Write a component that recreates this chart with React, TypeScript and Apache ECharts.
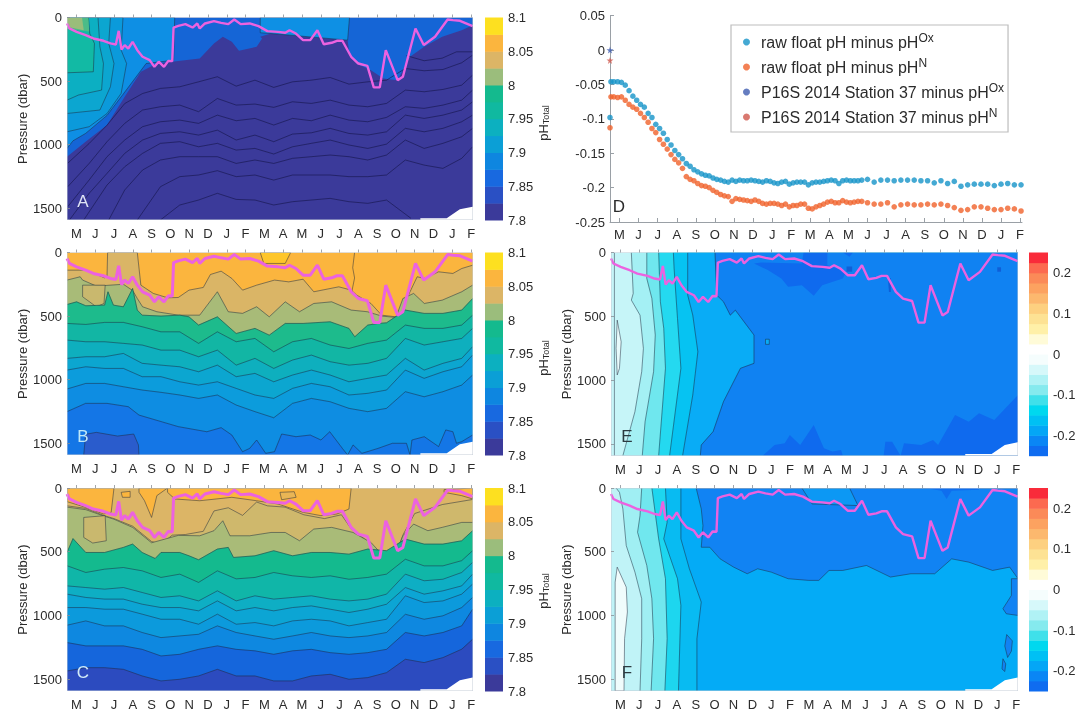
import React, { useEffect, useRef } from "react";
import * as echarts from "echarts";

const MONTH_LETTERS = ["M","J","J","A","S","O","N","D","J","F","M","A","M","J","J","A","S","O","N","D","J","F"];
const MONTH_TICKS = [0.5,1.5,2.5,3.5,4.5,5.5,6.5,7.5,8.5,9.5,10.5,11.5,12.5,13.5,14.5,15.5,16.5,17.5,18.5,19.5,20.5,21.5];
const MONTH_X = [0,1,2,3,4,5,6,7,8,9,10,11,12,13,14,15,16,17,18,19,20,21,21.58];
const TAIL_X = [6,7,8,9,10,11,12,13,14,15,16,17,18,19,20,21,21.58];
const PRESSURE_TICKS = [0,500,1000,1500];
const XMAX = 21.6;
const PMAX = 1593;

const PH_LEVELS = [7.8,7.825,7.85,7.875,7.9,7.925,7.95,7.975,8,8.025,8.05,8.075,8.1];
const PH_COLORS = ["#3b3a9a","#2a50c4","#1869e0","#0e86e0","#0b9fd6","#0cb0c0","#10b9a0","#14ba8e","#9bbd7c","#dcb566","#fbb53e","#fde020"];
const PH_TICKS = [7.8,7.85,7.9,7.95,8,8.05,8.1];
const DIFF_LEVELS = [-0.25,-0.225,-0.2,-0.175,-0.15,-0.125,-0.1,-0.075,-0.05,-0.025,0,0.025,0.05,0.075,0.1,0.125,0.15,0.175,0.2,0.225,0.25];
const DIFF_COLORS = ["#0f6cf0","#0a86f5","#04a6f6","#00c0f4","#00d8ef","#3fe0ea","#85eaee","#b0f2f5","#d6f8fa","#f5fdfd","#ffffff","#fffbd8","#fff0a8","#fde294","#fdd080","#fcb86e","#fca260","#fb8a58","#fc6a50","#f92b3a"];
const DIFF_TICKS = [-0.2,-0.1,0,0.1,0.2];

const MLD = [[0,47],[0.13,86],[0.51,113],[0.99,139],[1.4,165],[1.94,183],[2.31,204],[2.6,212],[2.75,105],[2.9,252],[3.07,217],[3.26,244],[3.49,191],[3.74,257],[4.02,309],[4.4,335],[4.65,388],[4.88,348],[5.16,388],[5.39,341],[5.6,343],[5.67,79],[5.92,66],[6.3,52],[6.68,79],[6.93,47],[7.06,86],[7.34,47],[7.82,29],[8.2,42],[8.58,52],[8.9,16],[9.24,52],[9.72,47],[10.19,68],[10.66,107],[11.23,113],[11.61,120],[11.84,100],[12.18,126],[12.56,178],[12.94,178],[13.32,100],[13.66,210],[14.08,199],[14.36,183],[14.65,183],[15.12,309],[15.5,362],[15.98,380],[16.32,550],[16.64,550],[16.96,257],[17.59,493],[17.87,466],[18.54,86],[18.98,217],[19.58,152],[20.25,16],[20.53,21],[20.91,26],[21.58,68]];
const NO_DATA = [[18.8,1580],[20.2,1580],[20.9,1509],[21.58,1488],[21.6,1488],[21.6,1593],[18.8,1593]];

// Panel A
const A_BLUE = [[0,0],[21.6,0],[21.58,60],[21,100],[19.96,152],[19,231],[18.25,309],[17.59,493],[16.83,479],[16.17,414],[15.41,362],[15.03,296],[14.93,178],[10.85,126],[10.28,152],[10.38,165],[10.09,231],[9.15,262],[8.77,191],[8.29,152],[7.82,204],[7.06,322],[5.92,343],[4.78,362],[3.93,427],[3.07,624],[2.13,846],[0.99,977],[0,1095]];
const A_LIGHT = [[0,0],[5.73,0],[5.67,336],[4.21,362],[3.07,587],[2.13,770],[0.99,912],[0.32,970],[0,1030]];
const A_LIGHT2 = [[10.28,0],[15.03,0],[14.93,178],[10.85,126],[10.28,120]];
const A_U4 = [[2.98,0],[2.88,257],[3.17,362],[2.88,597],[2.13,755],[1.18,859],[0,899],[0,0]];
const A_U3 = [[2.31,0],[2.22,204],[2.5,362],[2.31,545],[1.75,728],[0,755],[0,0]];
const A_U2 = [[1.65,0],[1.75,231],[1.94,362],[1.84,571],[0.61,610],[0,650],[0,0]];
const A_U1 = [[1.14,0],[1.21,126],[1.46,204],[1.4,427],[0,435],[0,0]];
const A_U0B = [[1.14,0],[1.18,110],[0,90],[0,0]];
const A_U0 = [[0.8,0],[0.89,100],[0,73],[0,0]];
const A_TOP = [[18.06,300],[19,340],[19.96,320],[20.72,270],[21.58,270]];
const A_P2 = [545,506,466,540,493,550,506,493,472,524,506,493,401,419,409,356,296];
const A_P3 = [689,741,637,689,681,707,663,676,650,689,702,676,571,584,566,532,453];
const A_P4 = [807,833,768,812,794,846,794,812,768,807,820,786,702,715,689,650,571];
const A_P5 = [899,925,886,964,925,977,917,907,872,912,925,899,768,794,768,728,663];
const A_P6 = [977,1017,990,1043,1030,1074,1017,990,964,1003,1030,996,872,899,872,820,768];
const A_P7 = [1095,1095,1095,1148,1121,1148,1108,1095,1082,1095,1121,1082,964,1030,990,938,872];
const A_P8 = [1252,1239,1205,1252,1239,1279,1239,1239,1239,1252,1252,1239,1121,1161,1187,1108,1017];
const A_P9 = [1475,1436,1383,1431,1436,1475,1449,1436,1423,1449,1462,1436];
const A_T2 = [[0.04,1146],[1.18,991],[2.13,847],[3.07,677],[4.02,598],[4.97,558]];
const A_T3 = [[0.04,1331],[1.18,1148],[2.13,977],[3.07,833],[4.02,728],[4.97,702]];
const A_T4 = [[0.04,1488],[1.18,1278],[2.13,1095],[3.07,964],[4.02,859],[4.97,820]];
const A_T5 = [[0.13,1593],[1.18,1383],[2.13,1226],[3.07,1069],[4.02,964],[4.97,912]];
const A_T6 = [[0.89,1593],[2.13,1318],[3.07,1174],[4.02,1069],[4.97,990]];
const A_T7 = [[2.22,1593],[3.07,1357],[4.02,1200],[4.97,1121]];
const A_T8 = [[3.74,1593],[4.97,1331]];
const A_T9 = [[4.97,1593]];
const A_E9 = [[18.3,1580]];

// Panel B
const B_T1 = [[0,139],[1,139],[2,199],[2.13,191],[2.16,0],[3.74,0],[3.93,257],[4.59,322],[5.35,356],[5.92,354],[6.49,296],[7.25,275],[7.63,173],[8.2,147],[8.77,204],[9.34,296],[10.09,257],[11.04,217],[11.8,231],[12.56,210],[13.13,309],[14.46,270],[15.12,296],[15.41,335],[16.17,401],[16.74,493],[17.5,506],[17.87,427],[18.63,191],[19.01,204],[19.77,152],[20.53,165],[21,126],[21.58,100]];
const B_T2 = [[0,217],[0.7,191],[0.83,217],[1.5,260],[2,260],[3,250],[3.5,300],[3.74,362],[4.02,427],[4.78,466],[5.92,493],[7.06,493],[8,309],[8.58,466],[9.34,479],[10.09,427],[10.76,506],[11.61,388],[12.37,466],[13.13,401],[14.08,388],[15.12,453],[15.98,466],[16.74,500],[17.5,511],[17.87,362],[18.44,322],[19.01,401],[19.96,375],[21,309],[21.58,257]];
const B_POCKET = [[0.83,257],[0.83,348],[1.56,427],[1.97,401],[2.03,257],[1.46,257]];
const B_YELLOW = [[10.28,0],[10.47,86],[11.61,86],[11.9,0]];
const B_T3 = [[0,409],[0.51,388],[1,419],[2,414],[2.18,309],[2.47,414],[3,427],[3.49,283],[3.74,453],[4,493],[5,500],[6,493],[6.49,506],[7,571],[8,506],[9,637],[10,597],[10.76,650],[11.61,558],[12.56,558],[14,545],[15,597],[15.31,663],[16,571],[16.55,558],[17,553],[18,453],[19,479],[20,479],[21,453],[21.58,362]];
const B_L4 = [558,566,550,550,584,624,624,715,624,702,676,781,702,676,728,755,715,689,571,597,597,571,493];
const B_L5 = [689,702,702,715,728,768,768,820,768,886,833,912,846,807,859,886,872,833,676,728,702,676,597];
const B_L6 = [833,820,820,794,872,886,899,938,886,977,951,1017,964,925,964,1017,990,964,833,925,872,833,741];
const B_L7 = [925,899,912,912,977,977,1017,1043,1017,1069,1121,1148,1069,1030,1056,1121,1108,1082,925,990,938,899,807];
const B_L8 = [1074,1030,1030,1056,1082,1100,1121,1148,1121,1200,1252,1300,1187,1148,1174,1226,1252,1226,1095,1135,1095,1043,964];
const B_L9 = [[0,1252],[0.99,1187],[2.13,1187],[3.26,1213],[3.83,1279],[5.92,1370],[7.44,1410],[8.2,1378],[8.77,1436],[9.34,1567],[9.72,1541],[10.09,1475],[10.57,1580],[11.04,1567],[11.42,1428],[12.18,1449],[12.94,1436],[13.51,1475],[13.98,1410],[14.65,1541],[14.93,1593],[15.22,1514],[15.69,1580],[16.55,1541],[17.31,1501],[18.06,1501],[18.25,1593],[18.35,1475],[19.01,1449],[19.77,1527],[20.15,1396],[20.53,1410],[20.72,1501],[21,1488],[21.58,1436]];
const B_DEEP = [[0.89,1593],[0.99,1430],[1.56,1415],[2.69,1444],[3.55,1428],[3.8,1514],[3.83,1593]];
const B_SEAM = [[15.3,0],[15.2,120],[15.3,200],[15.15,310]];

// Panel C
const C_O1 = [[0,0],[2.5,0],[2.35,191],[1.94,204],[0.99,152],[0,107]];
const C_O2 = [[3.83,0],[5.35,0],[4.78,60],[4.5,231],[4.12,99],[3.83,34]];
const C_O3 = [[5.35,0],[15.12,0],[15,165],[14.36,204],[13.51,217],[12.56,191],[11.23,126],[10.09,100],[8.77,73],[7.06,100],[5.73,86],[5.35,34]];
const C_O4 = [[20.06,13],[21.58,0],[21.58,86],[21,60],[20.06,34]];
const C_O5 = [[2.88,34],[3.36,26],[3.36,73],[2.95,73]];
const C_BLOB = [[11.33,34],[12.09,29],[12.19,73],[11.42,92]];
const C_T2A = [[0,140],[0.99,160],[1.94,215],[2.5,240],[3.5,300],[4.5,420],[5,440],[5.6,370],[6.3,365],[7.25,340],[7.82,180],[8.58,155],[9.34,215],[10.09,110],[10.66,140],[11.6,150],[12.6,210],[13.7,240],[14.6,210],[15.12,320],[16,420],[16.5,520],[17.5,510],[17.9,360],[18.5,200],[19.96,130],[21.58,90]];
const C_T2B = [[0,150],[1,170],[2,222],[2.5,245],[3.5,310],[4.5,430],[5.92,372],[7.06,375],[7.82,335],[8.29,257],[8.67,375],[9.72,375],[10.85,349],[11.61,349],[12.37,414],[13.13,322],[14.08,309],[15.22,349],[16.17,427],[16.74,519],[17.5,519],[17.87,375],[18.44,283],[19.2,335],[19.96,309],[21,270],[21.58,270]];
const C_POCKET = [[0.89,231],[2.03,217],[2.09,414],[1.37,432],[0.89,388]];
const C_T3 = [[0,506],[0.32,397],[1,506],[2,506],[3,466],[3.49,440],[4,506],[4.69,553],[5,506],[6,506],[6.49,532],[7,563],[8,479],[8.58,466],[8.86,545],[10,532],[11,492],[12,532],[13,506],[14,506],[15,519],[16,479],[17,492],[18,401],[19,440],[20,440],[21,414],[21.58,335]];
const C_A = [610,663,637,624,650,702,676,741,650,713,702,663,689,702,689,716,702,676,559,611,611,570,492];
const C_B = [768,781,794,781,820,859,846,886,807,886,846,872,859,846,872,886,872,833,676,728,716,663,584];
const C_C = [833,859,872,872,912,938,938,964,886,964,938,964,938,925,951,977,951,912,781,833,807,768,676];
const C_D = [938,938,951,951,990,1030,1030,1069,990,1069,1056,1082,1043,1030,1043,1082,1056,1030,846,899,886,833,754];
const C_E = [1077,1043,1082,1082,1134,1174,1161,1148,1082,1134,1161,1187,1161,1134,1161,1174,1161,1134,991,1030,1003,938,859];
const C_F = [1213,1239,1239,1239,1266,1318,1305,1266,1239,1266,1278,1305,1278,1266,1292,1305,1292,1266,1134,1161,1134,1082,951];
const C_G = [1436,1410,1410,1423,1475,1514,1501,1475,1423,1475,1475,1514,1514,1475,1462,1501,1488,1449,1344,1370,1331,1265,1187];

// Panel D
const D_TIMES = [0.05,0.2,0.4,0.6,0.8,1,1.2,1.4,1.6,1.8,2,2.2,2.4,2.6,2.8,3,3.2,3.4,3.6,3.8,4,4.2,4.4,4.6,4.8,5,5.2,5.4,5.6,5.8,6,6.2,6.4,6.6,6.8,7,7.2,7.4,7.6,7.8,8,8.2,8.4,8.6,8.8,9,9.2,9.4,9.6,9.8,10,10.2,10.4,10.6,10.8,11,11.2,11.4,11.6,11.8,12,12.2,12.4,12.6,12.8,13,13.2,13.5,13.85,14.2,14.55,14.9,15.25,15.6,15.95,16.3,16.65,17,17.35,17.7,18.05,18.4,18.75,19.1,19.45,19.8,20.15,20.5,20.85,21.2,21.55];
const D_OX = [-0.046,-0.046,-0.046,-0.047,-0.051,-0.059,-0.067,-0.073,-0.079,-0.083,-0.092,-0.098,-0.108,-0.114,-0.121,-0.13,-0.138,-0.146,-0.152,-0.158,-0.165,-0.169,-0.174,-0.177,-0.18,-0.182,-0.183,-0.186,-0.188,-0.189,-0.191,-0.192,-0.189,-0.191,-0.189,-0.19,-0.19,-0.189,-0.19,-0.191,-0.192,-0.19,-0.191,-0.193,-0.194,-0.192,-0.191,-0.195,-0.193,-0.192,-0.192,-0.192,-0.196,-0.193,-0.192,-0.192,-0.191,-0.19,-0.189,-0.19,-0.194,-0.19,-0.189,-0.19,-0.19,-0.19,-0.189,-0.188,-0.192,-0.189,-0.189,-0.19,-0.189,-0.189,-0.189,-0.19,-0.19,-0.193,-0.19,-0.194,-0.191,-0.198,-0.196,-0.195,-0.195,-0.195,-0.197,-0.195,-0.194,-0.196,-0.196];
const D_N = [-0.068,-0.068,-0.069,-0.068,-0.073,-0.079,-0.083,-0.086,-0.092,-0.098,-0.105,-0.114,-0.12,-0.13,-0.137,-0.144,-0.152,-0.159,-0.164,-0.172,-0.184,-0.188,-0.19,-0.194,-0.197,-0.198,-0.2,-0.204,-0.207,-0.21,-0.212,-0.213,-0.22,-0.216,-0.217,-0.218,-0.219,-0.22,-0.218,-0.22,-0.223,-0.224,-0.223,-0.223,-0.224,-0.226,-0.224,-0.228,-0.226,-0.226,-0.224,-0.224,-0.23,-0.231,-0.228,-0.226,-0.224,-0.221,-0.22,-0.222,-0.222,-0.219,-0.221,-0.222,-0.221,-0.22,-0.22,-0.222,-0.224,-0.224,-0.222,-0.228,-0.225,-0.224,-0.225,-0.225,-0.224,-0.225,-0.224,-0.226,-0.229,-0.233,-0.232,-0.228,-0.228,-0.23,-0.232,-0.232,-0.23,-0.231,-0.234];
const D_OX_FIRST = [[0,-0.098]];
const D_N_FIRST = [[0,-0.113]];
const D_STATION_OX = [[0,0]];
const D_STATION_N = [[0,-0.015]];
const D_TICKS = [-0.25,-0.2,-0.15,-0.1,-0.05,0,0.05];
const LEGEND_NAMES = ["raw float pH minus pH Ox","raw float pH minus pH N","P16S 2014 Station 37 minus pH Ox","P16S 2014 Station 37 minus pH N"];

// Panel E
const E_SLIVER = [[0.18,0],[0.18,1593]];
const E_PALE = [[0.33,530],[0.54,700],[0.45,908],[0.33,960],[0.27,751]];
const E_1 = [[1.08,0],[1.18,321],[1.08,373],[1.54,491],[1.72,752],[1.63,934],[1.27,1248],[0.63,1593]];
const E_2 = [[1.9,0],[1.9,204],[2.17,360],[2.35,647],[2.26,934],[1.81,1326],[1.66,1593]];
const E_3 = [[2.53,0],[2.62,386],[2.8,595],[2.89,908],[2.53,1593]];
const E_4 = [[3.31,0],[3.35,125],[3.53,517],[3.71,908],[3.11,1593]];
const E_5 = [[4.07,0],[4.07,334],[4.34,491],[4.61,778],[4.34,1117],[3.8,1593]];
const E_6 = [[5.52,0],[5.61,334],[5.97,386],[6.33,491],[6.6,452],[7.59,647],[7.59,869],[6.87,908],[5.97,1169],[5.42,1404],[4.79,1509],[4.74,1593]];
const E_DARK1 = [[7.59,86],[7.96,78],[10.13,86],[10.22,0],[11.48,0],[11.48,99],[12.48,151],[12.3,204],[11.21,256],[10.76,339],[10.13,256],[9.4,269],[9.04,204],[8.32,138]];
const E_DARK2 = [[8.05,1593],[8.68,1509],[9.22,1496],[9.49,1430],[10.04,1509],[10.76,1352],[11.3,1535],[11.75,1561],[12.21,1548],[12.3,1593]];
const E_DARK3 = [[14.47,1593],[14.56,1483],[14.92,1483],[15.37,1593],[15.55,1496],[16.46,1509],[17.09,1470],[17.36,1509],[18.26,1274],[18.99,1326],[19.53,1261],[20.34,1313],[21.6,1117],[21.6,1593]];
const E_DOT1 = [[12.5,110],[12.8,110],[12.8,150],[12.5,150]];
const E_DOT2 = [[20.5,115],[20.7,115],[20.7,150],[20.5,150]];
const E_DOT3 = [[14.7,200],[14.85,200],[14.85,310],[14.75,310]];
const E_DOT4 = [[12.3,0],[12.84,0],[12.66,34]];
const E_RING = [[8.2,680],[8.4,680],[8.4,720],[8.2,720]];

// Panel F
const F_PALE = [[0.33,621],[0.81,778],[0.87,973],[0.72,1182],[0.69,1593],[0.22,1593],[0.22,739]];
const F_1 = [[0.27,0],[0.45,34],[0.63,164],[0.81,452],[1.27,660],[1.63,869],[1.63,1182],[1.54,1593]];
const F_2 = [[1.63,0],[1.54,217],[1.41,347],[1.9,608],[2.17,869],[2.26,1182],[2.13,1593]];
const F_3 = [[2.17,0],[2.53,399],[2.89,712],[2.98,1182],[2.86,1593]];
const F_4 = [[2.89,0],[2.98,269],[2.8,399],[3.53,712],[3.71,921],[3.58,1593]];
const F_5 = [[3.71,0],[3.71,399],[4.16,634],[4.79,895],[4.56,1182],[4.56,1593]];
const F_DARK = [[4.52,0],[4.79,164],[4.88,295],[4.79,465],[5.24,465],[5.79,556],[6.51,621],[7.23,673],[7.78,634],[8.5,660],[9.4,712],[10.49,725],[11.03,725],[11.57,647],[12.3,647],[13.56,608],[14.83,699],[15.91,673],[17.18,673],[18.08,556],[18.99,582],[20.25,647],[21.16,621],[21.6,712],[21.6,0]];
const F_LOBE = [[21.25,712],[21.25,843],[20.8,947],[20.98,987],[21.6,1000],[21.6,712]];
const F_BLOB1 = [[21,1150],[21.3,1200],[21.25,1280],[21.05,1330],[20.9,1240]];
const F_BLOB2 = [[20.8,1340],[20.95,1380],[20.9,1440],[20.75,1420]];
const F_LIGHT = [[10.13,0],[12.66,0],[13.11,138],[10.67,125]];
const F_DEEP = [[16.64,0],[17.54,21],[17.81,86],[18.08,21],[19.53,13],[19.53,0]];

const FONT = "'Liberation Sans', Arial, sans-serif";
const onGrid = (vals: number[], xs: number[] = MONTH_X) => vals.map((p, i) => [xs[i], p]);

export default function App() {
  const ref = useRef<HTMLDivElement>(null);
  useEffect(() => {
    const chart = echarts.init(ref.current!, null, { renderer: "svg" });
    const grid: any[] = [], xAxis: any[] = [], yAxis: any[] = [], series: any[] = [], graphic: any[] = [];
    const LINE = "rgba(30,40,60,0.62)";

    const poly = (g: number, pts: number[][], fill: string | null, stroke: string | null, closed = true, outline?: number[][], lw = 0.8) => {
      series.push({
        type: "custom", xAxisIndex: g, yAxisIndex: g, clip: true, silent: true, data: pts, encode: { x: 0, y: 1 },
        renderItem: (params: any, api: any) => {
          if (params.dataIndex !== 0) return null;
          const children: any[] = [];
          const px = pts.map((p) => api.coord(p));
          if (fill) children.push({ type: "polygon", shape: { points: px }, style: { fill, stroke: outline ? fill : stroke || "none", lineWidth: outline ? 0.4 : lw } });
          else if (closed && stroke) children.push({ type: "polygon", shape: { points: px }, style: { fill: "none", stroke, lineWidth: lw } });
          if (stroke && (!closed || outline)) {
            const o = (outline || pts).map((p) => api.coord(p));
            children.push({ type: "polyline", shape: { points: o }, style: { fill: "none", stroke, lineWidth: lw } });
          }
          return { type: "group", children };
        },
      });
    };
    const below = (g: number, line: number[][], fill: string) => poly(g, [...line, [XMAX, PMAX], [0, PMAX]], fill, LINE, true, line);
    const rightOf = (g: number, line: number[][], fill: string) => poly(g, [...line, [XMAX, PMAX], [XMAX, 0]], fill, LINE, true, line);
    const closedLine = (g: number, line: number[][], fill: string | null, lw = 0.8) => poly(g, line, fill, LINE, true, undefined, lw);
    const openLine = (g: number, line: number[][], stroke = LINE) => poly(g, line, null, stroke, false);

    const panel = (g: number, left: number, right: number, top: number, bottom: number, name: string, letter: string, letterColor: string) => {
      grid.push({ left, top, width: right - left, height: bottom - top, containLabel: false });
      xAxis.push({
        type: "value", gridIndex: g, min: 0, max: XMAX, splitLine: { show: false }, axisLine: { show: false },
        axisTick: { show: true, inside: true, length: 3, customValues: MONTH_TICKS, lineStyle: { color: "#8a8f96", width: 0.8 } },
        axisLabel: { customValues: MONTH_TICKS, formatter: (v: number) => MONTH_LETTERS[Math.round(v - 0.5)], fontFamily: FONT, fontSize: 13, color: "#2b2b2b", margin: 7 },
        z: 20,
      });
      yAxis.push({
        type: "value", gridIndex: g, min: 0, max: PMAX, inverse: true, splitLine: { show: false }, axisLine: { show: false },
        name, nameLocation: "middle", nameGap: 36.5, nameRotate: 90, nameTextStyle: { fontFamily: FONT, fontSize: 13, color: "#2b2b2b" },
        axisTick: { show: true, inside: true, length: 3, customValues: PRESSURE_TICKS, lineStyle: { color: "#8a8f96", width: 0.8 } },
        axisLabel: { customValues: PRESSURE_TICKS, formatter: (v: number) => String(v), fontFamily: FONT, fontSize: 13, color: "#2b2b2b", margin: 5 },
        z: 20,
      });
      graphic.push({ type: "text", x: left + 16, y: bottom - 19, z: 100, style: { text: letter, fill: letterColor, font: `17px ${FONT}`, textAlign: "center", textVerticalAlign: "middle" } });
    };
    const finish = (g: number, pinkWidth: number) => {
      poly(g, NO_DATA, "#ffffff", null);
      series.push({ type: "line", xAxisIndex: g, yAxisIndex: g, data: MLD, showSymbol: false, silent: true, lineStyle: { color: "#ec62e0", width: pinkWidth }, clip: true, z: 5 });
      poly(g, [[0, 0], [XMAX, 0], [XMAX, PMAX], [0, PMAX]], null, "#c4ccd6", true, undefined, 1);
      series[series.length - 1].z = 6;
    };

    const colorbar = (g: number, left: number, right: number, top: number, bottom: number, levels: number[], colors: string[], ticks: number[]) => {
      grid.push({ left, top, width: right - left, height: bottom - top });
      xAxis.push({ type: "value", gridIndex: g, min: 0, max: 1, show: false });
      yAxis.push({
        type: "value", gridIndex: g, min: levels[0], max: levels[levels.length - 1], position: "right", splitLine: { show: false }, axisLine: { show: false },
        axisTick: { show: false },
        axisLabel: { customValues: ticks, fontFamily: FONT, fontSize: 13, color: "#2b2b2b", margin: 5, formatter: (v: number) => String(Math.round(v * 1000) / 1000) },
      });
      const bands = colors.map((_, i) => [0, levels[i], levels[i + 1]]);
      series.push({
        type: "custom", xAxisIndex: g, yAxisIndex: g, silent: true, data: bands, encode: { y: [1, 2] }, clip: false,
        renderItem: (params: any, api: any) => {
          const a = api.coord([0, api.value(1)]);
          const b = api.coord([1, api.value(2)]);
          return { type: "rect", shape: { x: a[0], y: b[1], width: b[0] - a[0], height: a[1] - b[1] + 0.5 }, style: { fill: colors[params.dataIndex] } };
        },
      });
    };

    // ---------- Panel A
    panel(0, 67, 473, 17.5, 220, "Pressure (dbar)", "A", "#dfe4f5");
    poly(0, [[0, 0], [XMAX, 0], [XMAX, PMAX], [0, PMAX]], "#3b3a9a", null);
    poly(0, A_BLUE, "#1565d6", null);
    poly(0, A_LIGHT, "#0e8fe4", LINE);
    poly(0, A_LIGHT2, "#0e90e4", LINE);
    poly(0, A_U4, "#0b9adb", LINE);
    poly(0, A_U3, "#0ca6d0", LINE);
    poly(0, A_U2, "#0cafc2", LINE);
    poly(0, A_U1, "#12baa4", LINE);
    poly(0, A_U0B, "#4cbc88", null);
    poly(0, A_U0, "#9abd7a", null);
    const NAVY = "rgba(20,20,70,0.72)";
    openLine(0, A_TOP, NAVY);
    ([[A_T2, A_P2], [A_T3, A_P3], [A_T4, A_P4], [A_T5, A_P5], [A_T6, A_P6], [A_T7, A_P7], [A_T8, A_P8]] as any[]).forEach(([tail, vals]: any) => {
      openLine(0, [...tail, ...onGrid(vals, TAIL_X)], NAVY);
    });
    openLine(0, [...A_T9, ...onGrid(A_P9, TAIL_X), ...A_E9], NAVY);
    finish(0, 2.4);

    // ---------- Panel B
    panel(1, 67, 473, 252.5, 455, "Pressure (dbar)", "B", "#bfe8f8");
    poly(1, [[0, 0], [XMAX, 0], [XMAX, PMAX], [0, PMAX]], "#fbb53e", null);
    poly(1, B_YELLOW, "#fec62a", LINE);
    below(1, B_T1, "#dab566");
    below(1, B_T2, "#a8bb78");
    closedLine(1, B_POCKET, "#c9b86e");
    below(1, B_T3, "#1dbb8c");
    below(1, onGrid(B_L4), "#12b6a4");
    below(1, onGrid(B_L5), "#0eafbe");
    below(1, onGrid(B_L6), "#0ca6d0");
    below(1, onGrid(B_L7), "#0c9cdc");
    below(1, onGrid(B_L8), "#0e8de2");
    below(1, B_L9, "#1476e6");
    closedLine(1, B_DEEP, "#2a5ccc");
    openLine(1, B_SEAM);
    finish(1, 3);

    // ---------- Panel C
    panel(2, 67, 473, 488, 691, "Pressure (dbar)", "C", "#d3ecf8");
    poly(2, [[0, 0], [XMAX, 0], [XMAX, PMAX], [0, PMAX]], "#dcb566", null);
    closedLine(2, C_O1, "#fbb53e");
    closedLine(2, C_O2, "#fbb53e");
    closedLine(2, C_O3, "#fbb53e");
    closedLine(2, C_O4, "#fbb53e");
    closedLine(2, C_O5, "#fbb53e");
    closedLine(2, C_BLOB, "#e9b555");
    below(2, C_T2A, "#cfb86c");
    below(2, C_T2B, "#a9bb78");
    closedLine(2, C_POCKET, "#c9b86e");
    below(2, C_T3, "#14ba8e");
    below(2, onGrid(C_A), "#10b6a8");
    below(2, onGrid(C_B), "#0eaec4");
    below(2, onGrid(C_C), "#0ca5d4");
    below(2, onGrid(C_D), "#0c9adc");
    below(2, onGrid(C_E), "#0e88e0");
    below(2, onGrid(C_F), "#1566dc");
    below(2, onGrid(C_G), "#2c4bbf");
    finish(2, 3);

    // ---------- Panel E
    panel(3, 611, 1018, 252.5, 455.7, "Pressure (dbar)", "E", "#2b3a40");
    poly(3, [[0, 0], [XMAX, 0], [XMAX, PMAX], [0, PMAX]], "#c6f5f8", null);
    openLine(3, E_SLIVER);
    closedLine(3, E_PALE, "#e8fbfc");
    rightOf(3, E_1, "#a4f0f4");
    rightOf(3, E_2, "#6fe7ee");
    rightOf(3, E_3, "#24d9f0");
    rightOf(3, E_4, "#06c3f2");
    rightOf(3, E_5, "#09acf6");
    rightOf(3, E_6, "#1082f2");
    poly(3, E_DARK1, "#0f6aee", null);
    poly(3, E_DARK2, "#0f6aee", null);
    poly(3, E_DARK3, "#0f6aee", null);
    poly(3, E_DOT1, "#0f5fd8", null);
    poly(3, E_DOT2, "#0f5fd8", null);
    poly(3, E_DOT3, "#0f5fd8", null);
    poly(3, E_DOT4, "#0f6aee", null);
    closedLine(3, E_RING, "#09acf6");
    finish(3, 2.4);

    // ---------- Panel F
    panel(4, 611, 1018, 488, 691, "Pressure (dbar)", "F", "#2b3a40");
    poly(4, [[0, 0], [XMAX, 0], [XMAX, PMAX], [0, PMAX]], "#c0f3f7", null);
    closedLine(4, F_PALE, "#f0fcfc");
    rightOf(4, F_1, "#a0eff3");
    rightOf(4, F_2, "#70e7ee");
    rightOf(4, F_3, "#1dd6ef");
    rightOf(4, F_4, "#08bbf2");
    rightOf(4, F_5, "#04abf6");
    closedLine(4, F_DARK, "#1183f3");
    closedLine(4, F_LIGHT, "#0c98f4");
    poly(4, F_DEEP, "#0f6eee", null);
    closedLine(4, F_LOBE, "#1183f3");
    closedLine(4, F_BLOB1, "#1183f3");
    closedLine(4, F_BLOB2, "#1183f3");
    finish(4, 2.4);

    // ---------- Panel D
    grid.push({ left: 610, top: 15.7, width: 412, height: 206.3 });
    xAxis.push({
      type: "value", gridIndex: 5, min: 0, max: XMAX, splitLine: { show: false },
      axisLine: { show: true, onZero: false, lineStyle: { color: "#9aa0a6", width: 1 } },
      axisTick: { show: true, inside: true, length: 4, customValues: MONTH_TICKS, lineStyle: { color: "#9aa0a6" } },
      axisLabel: { customValues: MONTH_TICKS, formatter: (v: number) => MONTH_LETTERS[Math.round(v - 0.5)], fontFamily: FONT, fontSize: 13, color: "#2b2b2b", margin: 6 },
    });
    yAxis.push({
      type: "value", gridIndex: 5, min: -0.25, max: 0.05, splitLine: { show: false },
      axisLine: { show: true, onZero: false, lineStyle: { color: "#9aa0a6", width: 1 } },
      axisTick: { show: true, inside: true, length: 4, customValues: D_TICKS, lineStyle: { color: "#9aa0a6" } },
      axisLabel: { customValues: D_TICKS, fontFamily: FONT, fontSize: 13, color: "#2b2b2b", margin: 5 },
    });
    const STAR = "path://M50 0 L61 35 L98 35 L68 57 L79 91 L50 70 L21 91 L32 57 L2 35 L39 35 Z";
    series.push({ name: LEGEND_NAMES[0], type: "scatter", xAxisIndex: 5, yAxisIndex: 5, symbolSize: 5.6, clip: false, itemStyle: { color: "#1594c8" }, data: [...D_OX_FIRST, ...D_TIMES.map((t, i) => [t, D_OX[i]])] });
    series.push({ name: LEGEND_NAMES[1], type: "scatter", xAxisIndex: 5, yAxisIndex: 5, symbolSize: 5.6, clip: false, itemStyle: { color: "#f0622a" }, data: [...D_N_FIRST, ...D_TIMES.map((t, i) => [t, D_N[i]])] });
    series.push({ name: LEGEND_NAMES[2], type: "scatter", xAxisIndex: 5, yAxisIndex: 5, symbol: STAR, symbolSize: 7, clip: false, itemStyle: { color: "#3f5cb0" }, data: D_STATION_OX });
    series.push({ name: LEGEND_NAMES[3], type: "scatter", xAxisIndex: 5, yAxisIndex: 5, symbol: STAR, symbolSize: 7, clip: false, itemStyle: { color: "#d0584c" }, data: D_STATION_N });
    graphic.push({ type: "text", x: 619, y: 206, z: 100, style: { text: "D", fill: "#2b2b2b", font: `17px ${FONT}`, textAlign: "center", textVerticalAlign: "middle" } });

    // ---------- Colorbars
    colorbar(6, 485, 503, 17.5, 220, PH_LEVELS, PH_COLORS, PH_TICKS);
    colorbar(7, 485, 503, 252.5, 455, PH_LEVELS, PH_COLORS, PH_TICKS);
    colorbar(8, 485, 503, 488, 691, PH_LEVELS, PH_COLORS, PH_TICKS);
    colorbar(9, 1029, 1048, 252.5, 455.7, DIFF_LEVELS, DIFF_COLORS, DIFF_TICKS);
    colorbar(10, 1029, 1048, 488, 691, DIFF_LEVELS, DIFF_COLORS, DIFF_TICKS);

    [123, 358, 591].forEach((y) => {
      graphic.push({
        type: "text", x: 543, y, rotation: Math.PI / 2, z: 100,
        style: { text: "{a|pH}{b|Total}", rich: { a: { fontSize: 13, fontFamily: FONT, fill: "#2b2b2b" }, b: { fontSize: 9, fontFamily: FONT, fill: "#2b2b2b", padding: [5, 0, 0, 0] } }, textAlign: "center", textVerticalAlign: "middle" },
      });
    });

    chart.setOption({
      animation: false,
      backgroundColor: "#ffffff",
      grid, xAxis, yAxis, series, graphic,
      legend: {
        show: true, orient: "vertical", left: 731, top: 25, icon: "circle",
        itemWidth: 7, itemHeight: 7, itemGap: 5, padding: [7, 4, 5, 12], borderColor: "#bdbdbd", borderWidth: 1.2,
        backgroundColor: "#fff", selectedMode: false,
        data: LEGEND_NAMES,
        formatter: (name: string) => {
          const m = name.match(/^(.*) (Ox|N)$/)!;
          return `{t|${m[1]}}{s|${m[2]}}`;
        },
        textStyle: {
          fontFamily: FONT, fontSize: 16, color: "#2b2b2b",
          rich: {
            t: { fontFamily: FONT, fontSize: 16, color: "#2b2b2b", lineHeight: 20, padding: [0, 0, 0, 6] },
            s: { fontFamily: FONT, fontSize: 12, color: "#2b2b2b", padding: [0, 0, 8, 0], lineHeight: 20 },
          },
        },
      },
    });
    return () => chart.dispose();
  }, []);
  return <div ref={ref} style={{ position: "fixed", left: 0, top: 0, width: 1084, height: 712, filter: "blur(0.5px)" }} />;
}
